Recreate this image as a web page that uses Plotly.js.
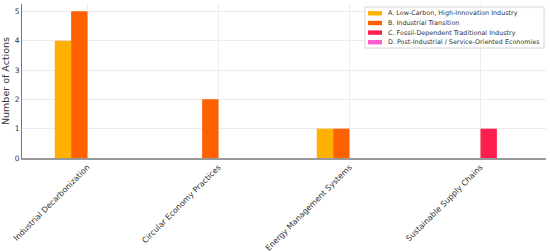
<!DOCTYPE html>
<html>
<head>
<meta charset="utf-8">
<script src="https://cdn.plot.ly/plotly-3.0.1.min.js"></script>
<style>
  html, body { margin: 0; padding: 0; background: #fff; }
  #chart { width: 550px; height: 252px; }
</style>
</head>
<body>
<div id="chart"></div>
<script>
// categories on the x axis
var categories = ["Industrial Decarbonization", "Circular Economy Practices", "Energy Management Systems", "Sustainable Supply Chains"];
// number of actions per region type
var lowCarbon = [4, 0, 1, 0];
var transition = [5, 2, 1, 0];
var fossil = [0, 0, 0, 1];
var postIndustrial = [0, 0, 0, 0];

var seriesNames = [
    "A. Low-Carbon, High-Innovation Industry",
    "B. Industrial Transition",
    "C. Fossil-Dependent Traditional Industry",
    "D. Post-Industrial / Service-Oriented Economies"
];
var seriesValues = [lowCarbon, transition, fossil, postIndustrial];
var colors = ["#FFB000", "#FE6100", "#FF1F4F", "#FF5CCC"];

var data = seriesValues.map((vals, i) => ({
    x: categories,
    y: vals,
    name: seriesNames[i],
    type: "bar",
    marker: {color: colors[i], line: {width: 0}}
}));

// plot area in pixels, used to place the hand-made legend
var M = {l: 22, r: 4, t: 4, b: 94};
var plotW = 550 - M.l - M.r, plotH = 252 - M.t - M.b;
var px = x => (x - M.l) / plotW;
var py = y => (252 - M.b - y) / plotH;

// compact legend like matplotlib's (plotly's own legend rows are too tall)
var shapes = [{
    type: "rect", xref: "paper", yref: "paper",
    x0: px(365), x1: px(544), y0: py(48), y1: py(7),
    fillcolor: "rgba(255,255,255,0.9)", line: {color: "#d6d6d6", width: 1}
}];
var annotations = [];
var rowY = [13.3, 23, 32.6, 42.2];
seriesNames.forEach((name, i) => {
    shapes.push({
        type: "rect", xref: "paper", yref: "paper",
        x0: px(368), x1: px(382), y0: py(rowY[i] + 2.2), y1: py(rowY[i] - 2.2),
        fillcolor: colors[i], line: {width: 0}
    });
    annotations.push({
        xref: "paper", yref: "paper", x: px(386), y: py(rowY[i]),
        xanchor: "left", yanchor: "middle", showarrow: false,
        text: name, font: {size: 6.4, color: "#333"}
    });
});

var layout = {
    width: 550,
    height: 252,
    margin: M,
    barmode: "group",
    bargap: 0.5,
    bargroupgap: 0,
    paper_bgcolor: "#fff",
    plot_bgcolor: "#fff",
    font: {family: "DejaVu Sans", size: 8, color: "#333"},
    showlegend: false,
    shapes: shapes,
    annotations: annotations,
    xaxis: {
        range: [-0.5, 3.5],
        tickangle: -45,
        tickfont: {size: 7.9, color: "#333"},
        showgrid: true,
        gridcolor: "#ececec",
        showline: true,
        linecolor: "#999",
        linewidth: 1.5,
        ticks: "",
        fixedrange: true
    },
    yaxis: {
        title: {text: "Number of Actions", font: {size: 9.5, color: "#333"}, standoff: 4},
        range: [0, 5.25],
        dtick: 1,
        tickfont: {size: 7.5, color: "#333"},
        showgrid: true,
        gridcolor: "#ececec",
        showline: true,
        linecolor: "#777",
        linewidth: 1,
        zeroline: false,
        ticks: "",
        fixedrange: true
    }
};

Plotly.newPlot("chart", data, layout, {displayModeBar: false, staticPlot: true});
</script>
</body>
</html>
